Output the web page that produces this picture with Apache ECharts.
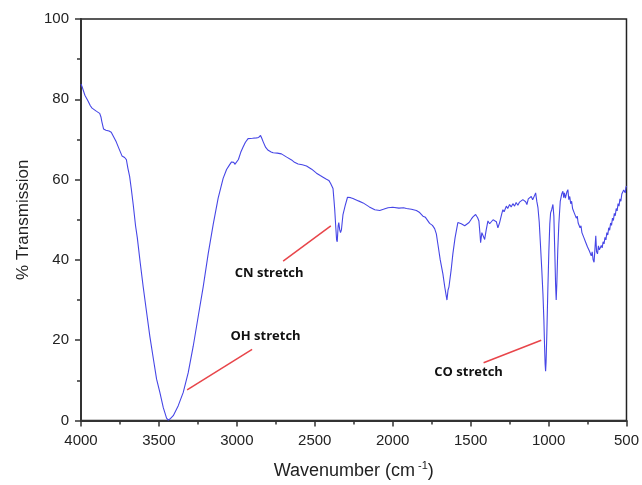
<!DOCTYPE html>
<html>
<head>
<meta charset="utf-8">
<script src="https://cdn.jsdelivr.net/npm/echarts@6/dist/echarts.min.js"></script>
<style>
    html, body {margin: 0; padding: 0; background: #fff;}
    #ftir_spectrum {width: 642px; height: 485px;}
</style>
</head>
<body>
<div id="ftir_spectrum"></div>
<script>
// wavenumber (cm-1) and % transmission
var wavenumber = [
    4000, 3990, 3975, 3955, 3940, 3929, 3900, 3880, 3872, 3866, 3855, 3840, 3820, 3806, 3790,
    3774, 3755, 3737, 3720, 3709, 3699, 3688, 3678, 3665, 3650, 3639, 3620, 3601, 3580, 3558,
    3535, 3515, 3494, 3472, 3451, 3440, 3425, 3408, 3376, 3344, 3312, 3280, 3248, 3216, 3184,
    3152, 3120, 3088, 3066, 3045, 3034, 3020, 3013, 3002, 2990, 2975, 2960, 2945, 2928, 2900,
    2874, 2860, 2848, 2840, 2831, 2815, 2799, 2780, 2767, 2740, 2714, 2680, 2649, 2630, 2607,
    2580, 2553, 2520, 2489, 2465, 2447, 2425, 2410, 2399, 2390, 2383, 2377, 2372, 2365, 2360,
    2356, 2350, 2346, 2340, 2335, 2329, 2319, 2305, 2290, 2270, 2255, 2220, 2190, 2150, 2115,
    2083, 2060, 2030, 2000, 1960, 1930, 1912, 1880, 1848, 1827, 1806, 1790, 1763, 1745, 1731,
    1720, 1710, 1695, 1678, 1665, 1652, 1645, 1639, 1625, 1614, 1600, 1582, 1570, 1560, 1549,
    1538, 1528, 1510, 1495, 1485, 1468, 1455, 1447, 1440, 1436, 1428, 1421, 1410, 1400, 1389,
    1378, 1367, 1356, 1346, 1335, 1325, 1314, 1300, 1293, 1285, 1271, 1262, 1250, 1240, 1229,
    1218, 1208, 1197, 1186, 1175, 1165, 1154, 1147, 1139, 1130, 1120, 1111, 1102, 1094, 1088,
    1083, 1075, 1068, 1060, 1053, 1044, 1036, 1030, 1026, 1022, 1019, 1016, 1011, 1005, 998,
    992, 987, 980, 972, 966, 960, 955, 951, 947, 941, 934, 925, 915, 908, 903,
    898, 892, 887, 882, 876, 870, 864, 858, 852, 846, 840, 834, 828, 822, 816,
    810, 804, 798, 792, 786, 780, 774, 768, 762, 756, 750, 744, 738, 732, 726,
    720, 714, 708, 702, 697, 692, 686, 680, 674, 668, 662, 656, 650, 644, 638,
    632, 626, 620, 614, 608, 602, 596, 590, 584, 578, 572, 566, 560, 554, 548,
    542, 536, 530, 524, 518, 513, 508, 504, 500
];
var transmission = [
    83.8, 82.8, 81.0, 79.6, 78.4, 77.8, 77.0, 76.5, 75.6, 74.4, 72.6, 72.3, 72.1, 71.8, 70.6,
    69.4, 67.6, 65.9, 65.5, 65.0, 62.8, 60.8, 57.9, 53.8, 48.5, 45.6, 39.3, 33.3, 27.2, 20.9,
    15.2, 10.3, 7.0, 3.2, 0.6, 0.1, 0.5, 1.2, 3.7, 7.0, 11.9, 18.5, 25.9, 33.3, 41.5,
    48.8, 55.4, 60.3, 62.5, 63.8, 64.4, 64.3, 63.8, 64.0, 65.0, 66.8, 68.1, 69.3, 70.2, 70.3,
    70.4, 70.5, 71.0, 70.3, 69.4, 68.0, 67.3, 66.9, 66.7, 66.6, 66.4, 65.6, 64.9, 64.3, 63.9,
    63.7, 63.4, 62.6, 61.6, 61.0, 60.6, 60.1, 59.8, 59.1, 58.8, 57.8, 55.0, 52.5, 48.0, 45.0,
    44.5, 48.5, 49.3, 47.5, 46.8, 47.5, 51.3, 53.5, 55.6, 55.5, 55.3, 54.7, 54.2, 53.2, 52.5,
    52.3, 52.6, 53.0, 53.1, 52.9, 53.0, 52.8, 52.6, 52.3, 51.8, 50.9, 50.6, 49.1, 48.6, 47.8,
    46.5, 43.9, 40.0, 36.5, 33.0, 30.0, 32.5, 33.3, 37.5, 41.5, 45.5, 49.3, 49.5, 49.0, 49.0,
    48.5, 48.4, 49.3, 50.2, 50.7, 51.3, 50.5, 49.7, 46.5, 44.3, 46.8, 46.4, 45.1, 47.5, 49.7,
    49.0, 49.3, 50.0, 49.8, 49.5, 48.0, 49.3, 51.5, 52.5, 52.0, 53.4, 52.8, 53.8, 53.2, 54.0,
    53.4, 54.3, 53.6, 54.4, 54.0, 55.0, 55.4, 54.5, 53.8, 55.2, 54.8, 55.8, 55.0, 55.0, 56.2,
    56.7, 54.5, 53.0, 49.5, 44.5, 38.0, 31.5, 25.0, 19.0, 14.0, 12.3, 14.5, 21.7, 32.0, 42.3,
    49.0, 51.7, 52.5, 53.8, 50.9, 42.0, 34.0, 30.0, 34.0, 42.3, 49.0, 54.6, 56.5, 57.1, 55.5,
    56.7, 55.4, 55.8, 57.0, 57.5, 55.0, 55.8, 54.0, 54.6, 52.8, 53.2, 51.6, 52.0, 50.4, 50.9,
    49.2, 49.6, 48.0, 48.5, 46.8, 47.2, 45.6, 46.0, 44.4, 44.8, 43.2, 43.6, 42.2, 42.6, 41.0,
    42.0, 40.0, 39.4, 43.0, 46.0, 42.0, 41.5, 43.5, 42.5, 43.0, 43.6, 43.0, 44.5, 44.0, 45.6,
    45.0, 46.8, 46.2, 48.0, 47.4, 49.2, 48.6, 50.4, 49.8, 51.6, 51.0, 52.8, 52.2, 54.0, 53.4,
    55.2, 54.6, 56.4, 56.8, 57.4, 57.5, 56.7, 58.0, 58.4
];

// band labels: text, label position and pointer line ends (wavenumber, %T)
var band_names = ['OH stretch', 'CN stretch', 'CO stretch'];
var band_label_at = [[2816, 20.9], [2793, 36.7], [1513, 11.9]];
var band_line_from = [[3319, 7.6], [2703, 39.7], [1417, 14.4]];
var band_line_to = [[2902, 17.7], [2397, 48.5], [1047, 20.0]];

var x_ticks = {min: 500, max: 4000, interval: 500};
var y_ticks = {min: 0, max: 100, interval: 20};

var spectrum = [];
for (var i = 0; i < wavenumber.length; i++) {
    spectrum.push([wavenumber[i], transmission[i]]);
}
var pointer_lines = [];
var label_points = [];
for (var j = 0; j < band_names.length; j++) {
    pointer_lines.push([{coord: band_line_from[j]}, {coord: band_line_to[j]}]);
    label_points.push({name: band_names[j], coord: band_label_at[j]});
}

var myChart = echarts.init(document.getElementById('ftir_spectrum'));
var ftir_options = {
    animation: false,
    backgroundColor: '#ffffff',
    textStyle: {fontFamily: 'Liberation Sans, Arial, sans-serif'},
    grid: {left: 81, right: 15, top: 19, bottom: 60, show: true, borderColor: '#222', borderWidth: 1.5},
    xAxis: {
        type: 'value',
        inverse: true,
        min: x_ticks.min,
        max: x_ticks.max,
        interval: x_ticks.interval,
        name: 'Wavenumber (cm{sup|-1})',
        nameLocation: 'middle',
        nameGap: 40,
        nameTextStyle: {
            fontSize: 18, color: '#222',
            rich: {sup: {fontSize: 11, color: '#222', padding: [0, 0, 10, 3]}}
        },
        axisLine: {lineStyle: {color: '#333', width: 2}},
        axisTick: {inside: false, length: 6, lineStyle: {color: '#333', width: 1.5}},
        minorTick: {show: true, splitNumber: 2, length: 4, lineStyle: {color: '#333', width: 1.5}},
        axisLabel: {
            fontSize: 15, color: '#222', margin: 13,
            formatter: function (v) { return String(v); }
        },
        splitLine: {show: false}
    },
    yAxis: {
        type: 'value',
        min: y_ticks.min,
        max: y_ticks.max,
        interval: y_ticks.interval,
        name: '% Transmission',
        nameLocation: 'middle',
        nameGap: 49,
        nameTextStyle: {fontSize: 17, color: '#222'},
        axisLine: {lineStyle: {color: '#333', width: 2}},
        axisTick: {inside: false, length: 6, lineStyle: {color: '#333', width: 1.5}},
        minorTick: {show: true, splitNumber: 2, length: 4, lineStyle: {color: '#333', width: 1.5}},
        axisLabel: {fontSize: 15, color: '#222', margin: 12},
        splitLine: {show: false}
    },
    series: [
        {
            name: 'FTIR',
            type: 'line',
            data: spectrum,
            showSymbol: false,
            symbol: 'none',
            lineStyle: {color: '#4646e6', width: 1.1},
            markLine: {
                silent: true,
                symbol: ['none', 'none'],
                label: {show: false},
                lineStyle: {color: '#e8454a', width: 1.5, type: 'solid'},
                data: pointer_lines
            },
            markPoint: {
                silent: true,
                symbol: 'circle',
                symbolSize: 0,
                label: {
                    show: true,
                    position: 'inside',
                    formatter: '{b}',
                    fontFamily: 'Open Sans',
                    fontWeight: 'bold',
                    fontSize: 13,
                    color: '#111'
                },
                data: label_points
            }
        }
    ]
};
myChart.setOption(ftir_options, true);
</script>
</body>
</html>
